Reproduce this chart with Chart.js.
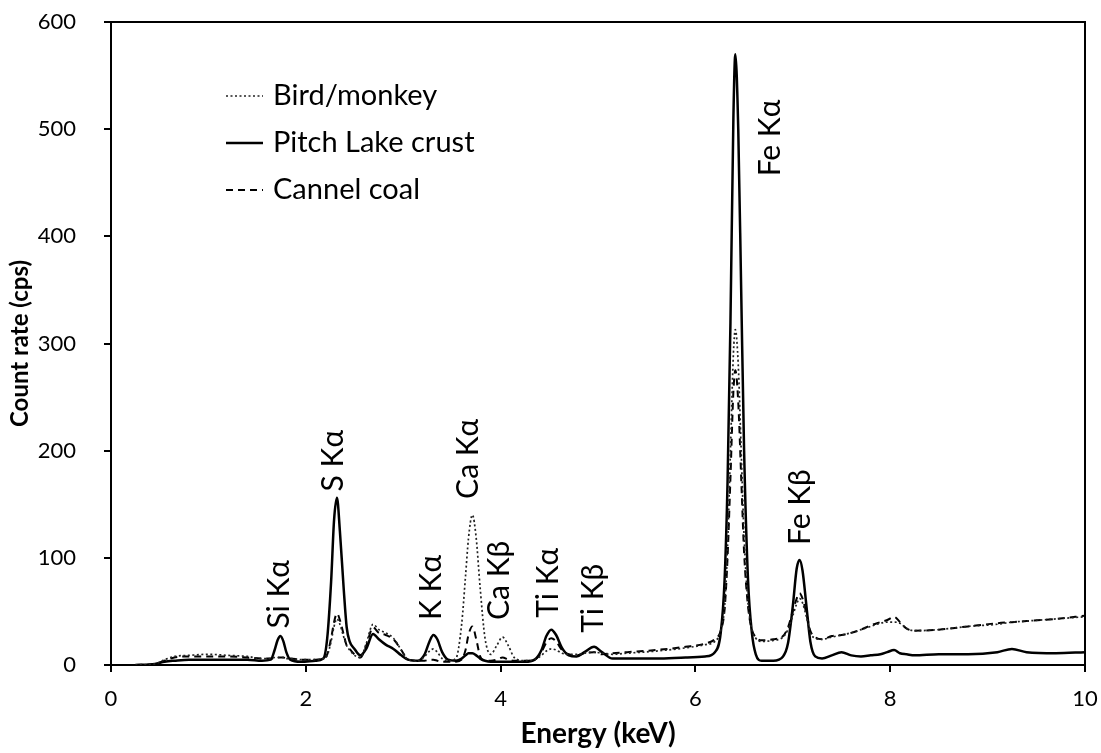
<!DOCTYPE html>
<html>
<head>
<meta charset="utf-8">
<script src="https://cdn.jsdelivr.net/npm/chart.js@4.4.1/dist/chart.umd.min.js"></script>
<style>
  html, body { margin: 0; padding: 0; background: #fff; }
  #wrap { width: 1101px; height: 753px; position: relative; }
</style>
</head>
<body>
<div id="wrap"><canvas id="xrfChart"></canvas></div>
<script>
// energy grid (keV), denser around the peaks
const ENERGY = [
  0.25, 0.45, 0.55, 0.65, 0.8, 1.0, 1.2, 1.4, 1.55,
  1.64, 1.68, 1.71, 1.74, 1.77, 1.8, 1.84, 1.95, 2.1,
  2.18, 2.22, 2.26, 2.29, 2.32, 2.35, 2.39, 2.42, 2.45, 2.5, 2.56, 2.62, 2.69, 2.75, 2.82, 2.9, 2.98, 3.05,
  3.15, 3.22, 3.27, 3.31, 3.35, 3.4, 3.46, 3.54,
  3.6, 3.64, 3.67, 3.71, 3.75, 3.79, 3.84, 3.9, 3.96, 4.02, 4.08, 4.14,
  4.25, 4.35, 4.42, 4.47, 4.52, 4.57, 4.63, 4.7, 4.78, 4.86, 4.96, 5.04, 5.15,
  5.3, 5.6, 5.9, 6.1, 6.2, 6.26, 6.3, 6.33, 6.36, 6.39, 6.41, 6.44, 6.47, 6.5, 6.54, 6.58, 6.62, 6.68,
  6.8, 6.9, 6.95, 7.0, 7.04, 7.07, 7.1, 7.14, 7.18, 7.23, 7.3,
  7.4, 7.5, 7.6, 7.7, 7.8, 7.9, 7.97, 8.04, 8.1, 8.17, 8.25, 8.5, 8.8, 9.1, 9.25, 9.4, 9.7, 10.0
]

// count rate (cps)
const BIRD_MONKEY = [
  0, 1, 5, 8, 9, 10, 9, 8, 6,
  6, 7, 7, 7, 7, 6, 6, 5, 5,
  6, 9, 22, 36, 43, 38, 26, 18, 14, 9, 7, 20, 38, 33, 30, 25, 14, 5,
  4, 8, 13, 15, 12, 6, 4, 6,
  38, 83, 118, 140, 118, 72, 25, 10, 18, 26, 18, 7,
  4, 5, 9, 13, 15, 14, 11, 10, 10, 11, 12, 11, 10,
  11, 13, 16, 19, 22, 32, 55, 110, 200, 290, 313, 280, 200, 120, 58, 33, 25, 22,
  23, 26, 33, 46, 57, 62, 58, 45, 30, 25, 24,
  26, 28, 30, 33, 36, 39, 40, 40, 39, 34, 32, 33, 36, 38, 40, 41, 43, 45
]

const PITCH_LAKE = [
  0, 1, 3, 4, 5, 5, 5, 5, 4,
  5, 14, 23, 27, 22, 12, 5, 3, 4,
  6, 25, 78, 135, 156, 125, 70, 35, 22, 15, 9, 15, 29, 24, 19, 15, 9, 5,
  4, 10, 22, 28, 24, 12, 5, 4,
  6, 9, 11, 11, 9, 6, 4, 3, 3, 3, 3, 3,
  3, 5, 14, 27, 33, 28, 16, 9, 8, 12, 17, 12, 6,
  6, 6, 7, 8, 12, 30, 80, 170, 320, 510, 570, 500, 350, 200, 80, 30, 10, 4,
  4, 8, 20, 55, 90, 98, 88, 55, 22, 8, 6,
  9, 12, 9, 8, 9, 10, 12, 14, 11, 10, 9, 10, 10, 12, 15, 12, 11, 12
]

const CANNEL_COAL = [
  0, 1, 4, 7, 8, 8, 8, 7, 6,
  6, 6, 7, 7, 7, 6, 6, 5, 5,
  6, 10, 25, 40, 48, 42, 28, 18, 15, 10, 7, 18, 35, 30, 28, 24, 14, 5,
  4, 4, 5, 5, 4, 3, 3, 3,
  5, 14, 28, 36, 24, 8, 4, 4, 5, 7, 5, 4,
  4, 5, 12, 21, 25, 22, 14, 10, 9, 11, 12, 10, 11,
  12, 14, 17, 20, 24, 32, 52, 100, 175, 255, 275, 245, 175, 105, 55, 33, 26, 23,
  24, 27, 35, 50, 62, 67, 62, 48, 32, 26, 24,
  27, 28, 30, 33, 37, 40, 42, 45, 40, 34, 32, 33, 36, 39, 40, 41, 43, 46
]

const SERIES_NAMES = ['Bird/monkey', 'Pitch Lake crust', 'Cannel coal']
const X_TICKS = [0, 2, 4, 6, 8, 10]
const Y_TICKS = [0, 100, 200, 300, 400, 500, 600]

// peak annotations: label, energy (keV), count where the text starts
const PEAK_NAMES = ['Si Kα', 'S Kα', 'K Kα', 'Ca Kα', 'Ca Kβ', 'Ti Kα', 'Ti Kβ', 'Fe Kα', 'Fe Kβ']
const PEAK_ENERGY = [1.73, 2.28, 3.29, 3.67, 3.99, 4.49, 4.95, 6.77, 7.08]
const PEAK_BASE = [34, 162, 42, 155, 42, 44, 30, 456, 112]

const FONT = 'Lato, "Open Sans", sans-serif'
const INK = '#000'

const STYLES = [
  { color: '#222', width: 1.7, dash: [2, 2.5] },
  { color: INK, width: 2.5, dash: [] },
  { color: INK, width: 2, dash: [7, 5] },
]

function points(ys) {
  return ENERGY.map((e, i) => ({ x: e, y: ys[i] }))
}

// frame on top and right of the plot
const frame = {
  id: 'frame',
  afterDraw(chart) {
    const { ctx, chartArea: a } = chart
    ctx.save()
    ctx.strokeStyle = INK
    ctx.lineWidth = 2
    ctx.beginPath()
    ctx.moveTo(a.left, a.top)
    ctx.lineTo(a.right, a.top)
    ctx.lineTo(a.right, a.bottom)
    ctx.stroke()
    ctx.restore()
  }
}

const peakLabels = {
  id: 'peakLabels',
  afterDatasetsDraw(chart) {
    const { ctx, scales } = chart
    ctx.save()
    ctx.fillStyle = INK
    ctx.font = '30px ' + FONT
    ctx.textAlign = 'left'
    ctx.textBaseline = 'middle'
    PEAK_NAMES.forEach((name, i) => {
      const x = scales.x.getPixelForValue(PEAK_ENERGY[i])
      const y = scales.y.getPixelForValue(PEAK_BASE[i])
      ctx.save()
      ctx.translate(x, y)
      ctx.rotate(-Math.PI / 2)
      ctx.fillText(name, 0, 0)
      ctx.restore()
    })
    ctx.restore()
  }
}

// legend inside the plot, short line sample then name
const insideLegend = {
  id: 'insideLegend',
  afterDraw(chart) {
    const { ctx, chartArea: a } = chart
    ctx.save()
    ctx.font = '29px ' + FONT
    ctx.textBaseline = 'middle'
    ctx.fillStyle = INK
    SERIES_NAMES.forEach((name, i) => {
      const y = a.top + 74 + i * 47
      const s = STYLES[i]
      ctx.strokeStyle = s.color
      ctx.lineWidth = s.width
      ctx.setLineDash(s.dash)
      ctx.beginPath()
      ctx.moveTo(a.left + 115, y)
      ctx.lineTo(a.left + 152, y)
      ctx.stroke()
      ctx.setLineDash([])
      ctx.fillText(name, a.left + 162, y)
    })
    ctx.restore()
  }
}

new Chart(document.getElementById('xrfChart'), {
  type: 'line',
  data: {
    datasets: [BIRD_MONKEY, PITCH_LAKE, CANNEL_COAL].map((ys, i) => ({
      label: SERIES_NAMES[i],
      data: points(ys),
      borderColor: STYLES[i].color,
      borderWidth: STYLES[i].width,
      borderDash: STYLES[i].dash,
      pointRadius: 0,
      fill: false,
      cubicInterpolationMode: 'monotone',
    }))
  },
  options: {
    responsive: true,
    maintainAspectRatio: false,
    animation: false,
    layout: { padding: { top: 22, right: 16, left: 0, bottom: 0 } },
    plugins: { legend: { display: false }, tooltip: { enabled: false } },
    scales: {
      x: {
        type: 'linear', min: 0, max: 10,
        afterBuildTicks: s => { s.ticks = X_TICKS.map(v => ({ value: v })) },
        afterFit: s => { s.height = 88; s.paddingLeft = 0; s.paddingRight = 0 },
        ticks: { color: INK, font: { family: FONT, size: 22 }, padding: 14 },
        grid: { drawOnChartArea: false, drawTicks: true, tickLength: 7, color: INK, lineWidth: 2 },
        border: { color: INK, width: 2 },
        title: { display: true, text: 'Energy (keV)', color: INK, font: { family: FONT, size: 28, weight: 'bold' }, padding: { top: 0, bottom: 2 } },
      },
      y: {
        min: 0, max: 600,
        afterBuildTicks: s => { s.ticks = Y_TICKS.map(v => ({ value: v })) },
        afterFit: s => { s.width = 111; s.paddingTop = 0; s.paddingBottom = 0 },
        ticks: { color: INK, font: { family: FONT, size: 22 }, padding: 28 },
        grid: { drawOnChartArea: false, drawTicks: true, tickLength: 7, color: INK, lineWidth: 2 },
        border: { color: INK, width: 2 },
        title: { display: true, text: 'Count rate (cps)', color: INK, font: { family: FONT, size: 24, weight: 'bold' }, padding: { top: 6, bottom: 0 } },
      },
    },
  },
  plugins: [frame, peakLabels, insideLegend],
})
</script>
</body>
</html>
